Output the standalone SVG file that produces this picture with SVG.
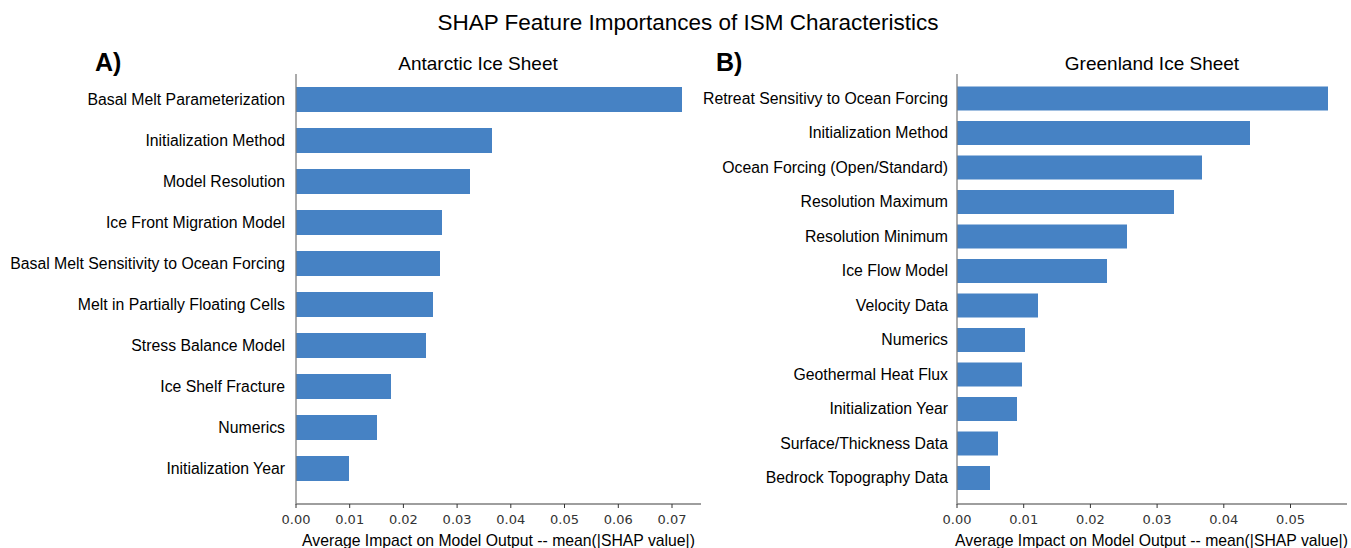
<svg xmlns="http://www.w3.org/2000/svg" width="1351" height="548" viewBox="0 0 1351 548">
<style>
.bar{fill:#4682C4}
.ax{stroke:#7f7f7f;stroke-width:1.3;fill:none}
.tk{stroke:#333;stroke-width:1}
.lbl{font-family:"Liberation Sans",Arial,sans-serif;font-size:15.8px;fill:#000;text-anchor:end}
.tl{font-family:"DejaVu Sans",sans-serif;font-size:13px;fill:#333;text-anchor:middle}
.xl{font-family:"Liberation Sans",Arial,sans-serif;font-size:15.75px;fill:#000;text-anchor:middle}
.st{font-family:"Liberation Sans",Arial,sans-serif;font-size:19px;fill:#000;text-anchor:middle}
.pl{font-family:"Liberation Sans",Arial,sans-serif;font-size:25px;font-weight:bold;fill:#000}
</style>
<rect width="1351" height="548" fill="#fff"/>
<text x="688" y="30" class="st" style="font-size:22.5px">SHAP Feature Importances of ISM Characteristics</text>

<g id="panelA">
<text x="95" y="71" class="pl">A)</text>
<text x="478" y="70" class="st">Antarctic Ice Sheet</text>
<g id="barsA">
<rect class="bar" x="296" y="87" width="386" height="25"/>
<rect class="bar" x="296" y="128" width="196" height="25"/>
<rect class="bar" x="296" y="169" width="174" height="25"/>
<rect class="bar" x="296" y="210" width="146" height="25"/>
<rect class="bar" x="296" y="251" width="144" height="25"/>
<rect class="bar" x="296" y="292" width="137" height="25"/>
<rect class="bar" x="296" y="333" width="130" height="25"/>
<rect class="bar" x="296" y="374" width="95" height="25"/>
<rect class="bar" x="296" y="415" width="81" height="25"/>
<rect class="bar" x="296" y="456" width="53" height="25"/>
</g>
<g id="labelsA">
<text x="285" y="104.5" class="lbl">Basal Melt Parameterization</text>
<text x="285" y="145.5" class="lbl">Initialization Method</text>
<text x="285" y="186.5" class="lbl">Model Resolution</text>
<text x="285" y="227.5" class="lbl">Ice Front Migration Model</text>
<text x="285" y="268.5" class="lbl">Basal Melt Sensitivity to Ocean Forcing</text>
<text x="285" y="309.5" class="lbl">Melt in Partially Floating Cells</text>
<text x="285" y="350.5" class="lbl">Stress Balance Model</text>
<text x="285" y="391.5" class="lbl">Ice Shelf Fracture</text>
<text x="285" y="432.5" class="lbl">Numerics</text>
<text x="285" y="473.5" class="lbl">Initialization Year</text>
</g>
<path class="ax" d="M296 74V504H701"/>
<g id="ticksA">
<path class="tk" d="M296 504v4M349.7 504v4M403.4 504v4M457.1 504v4M510.8 504v4M564.5 504v4M618.3 504v4M672 504v4"/>
<text x="296" y="524" class="tl">0.00</text>
<text x="349.7" y="524" class="tl">0.01</text>
<text x="403.4" y="524" class="tl">0.02</text>
<text x="457.1" y="524" class="tl">0.03</text>
<text x="510.8" y="524" class="tl">0.04</text>
<text x="564.5" y="524" class="tl">0.05</text>
<text x="618.3" y="524" class="tl">0.06</text>
<text x="672" y="524" class="tl">0.07</text>
</g>
<text x="498.5" y="546" class="xl">Average Impact on Model Output -- mean(|SHAP value|)</text>
</g>

<g id="panelB">
<text x="716" y="71" class="pl">B)</text>
<text x="1152" y="70" class="st">Greenland Ice Sheet</text>
<g id="barsB">
<rect class="bar" x="957" y="86.5" width="371" height="24"/>
<rect class="bar" x="957" y="121" width="293" height="24"/>
<rect class="bar" x="957" y="155.5" width="245" height="24"/>
<rect class="bar" x="957" y="190" width="217" height="24"/>
<rect class="bar" x="957" y="224.5" width="170" height="24"/>
<rect class="bar" x="957" y="259" width="150" height="24"/>
<rect class="bar" x="957" y="293.5" width="81" height="24"/>
<rect class="bar" x="957" y="328" width="68" height="24"/>
<rect class="bar" x="957" y="362.5" width="65" height="24"/>
<rect class="bar" x="957" y="397" width="60" height="24"/>
<rect class="bar" x="957" y="431.5" width="41" height="24"/>
<rect class="bar" x="957" y="466" width="33" height="24"/>
</g>
<g id="labelsB">
<text x="948" y="103.5" class="lbl">Retreat Sensitivy to Ocean Forcing</text>
<text x="948" y="138" class="lbl">Initialization Method</text>
<text x="948" y="172.5" class="lbl">Ocean Forcing (Open/Standard)</text>
<text x="948" y="207" class="lbl">Resolution Maximum</text>
<text x="948" y="241.5" class="lbl">Resolution Minimum</text>
<text x="948" y="276" class="lbl">Ice Flow Model</text>
<text x="948" y="310.5" class="lbl">Velocity Data</text>
<text x="948" y="345" class="lbl">Numerics</text>
<text x="948" y="379.5" class="lbl">Geothermal Heat Flux</text>
<text x="948" y="414" class="lbl">Initialization Year</text>
<text x="948" y="448.5" class="lbl">Surface/Thickness Data</text>
<text x="948" y="483" class="lbl">Bedrock Topography Data</text>
</g>
<path class="ax" d="M957 74V504H1347"/>
<g id="ticksB">
<path class="tk" d="M957 504v4M1023.7 504v4M1090.4 504v4M1157.1 504v4M1223.8 504v4M1290.5 504v4"/>
<text x="957" y="524" class="tl">0.00</text>
<text x="1023.7" y="524" class="tl">0.01</text>
<text x="1090.4" y="524" class="tl">0.02</text>
<text x="1157.1" y="524" class="tl">0.03</text>
<text x="1223.8" y="524" class="tl">0.04</text>
<text x="1290.5" y="524" class="tl">0.05</text>
</g>
<text x="1151.5" y="546" class="xl">Average Impact on Model Output -- mean(|SHAP value|)</text>
</g>
</svg>
